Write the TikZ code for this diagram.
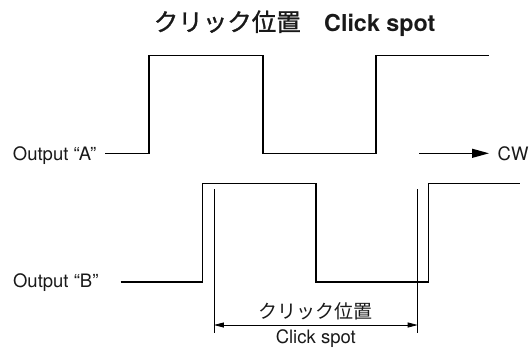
\documentclass[tikz,border=0pt]{standalone}
\usepackage{fontspec}
\setmainfont{TeX Gyre Heros}
\newfontfamily\jpfont{Noto Sans CJK JP}
\newfontfamily\jptitlefont[FakeBold=1.2]{Noto Sans CJK JP}
\usetikzlibrary{arrows.meta}
\begin{document}
\begin{tikzpicture}[x=1pt,y=-1pt,
  wave/.style={line width=1.6pt, line join=miter, line cap=butt},
  thinl/.style={line width=0.8pt},
  lbl/.style={inner sep=0pt, text=black!90, font=\fontsize{18.5}{22}\selectfont},
  ttl/.style={inner sep=0pt, text=black!90}]
\useasboundingbox (0,0) rectangle (532,349);
% title
\node[ttl, anchor=base east, font=\fontsize{24.5}{28}\selectfont\jptitlefont] (tjp) at (301,31) {クリック位置};
\node[ttl, anchor=base west, font=\fontsize{23.3}{27}\selectfont\bfseries] (ten) at (324,31) {Click spot};
% output A
\node[lbl, anchor=base west] (la) at (12.7,160.5) {Output “A”};
\coordinate (a0) at (105,153.3);
\coordinate (a1) at (149,153.3);
\coordinate (a2) at (149,55.5);
\coordinate (a3) at (262.7,55.5);
\coordinate (a4) at (262.7,153.3);
\coordinate (a5) at (375.7,153.3);
\coordinate (a6) at (375.7,55.5);
\coordinate (a7) at (489,55.5);
\draw[wave] (a0) -- (a1) -- (a2) -- (a3) -- (a4) -- (a5) -- (a6) -- (a7);
% CW arrow
\coordinate (cw0) at (419,153.3);
\coordinate (cw1) at (489,153.3);
\draw[line width=1.2pt, -{Triangle[length=17pt,width=9pt]}] (cw0) -- (cw1);
\node[lbl, anchor=base west] (cw) at (497.5,160.5) {CW};
% output B
\node[lbl, anchor=base west] (lb) at (12.9,287.4) {Output “B”};
\coordinate (b0) at (120.5,281.7);
\coordinate (b1) at (202.5,281.7);
\coordinate (b2) at (202.5,183.4);
\coordinate (b3) at (316,183.4);
\coordinate (b4) at (316,281.7);
\coordinate (b5) at (428.5,281.7);
\coordinate (b6) at (428.5,183.4);
\coordinate (b7) at (519.5,183.4);
\draw[wave] (b0) -- (b1) -- (b2) -- (b3) -- (b4) -- (b5) -- (b6) -- (b7);
% click spot dimension
\coordinate (v1t) at (213.9,189.3);
\coordinate (v1b) at (213.9,333.3);
\coordinate (v2t) at (417.7,189.3);
\coordinate (v2b) at (417.7,333.3);
\draw[thinl] (v1t) -- (v1b);
\draw[thinl] (v2t) -- (v2b);
\coordinate (d1) at (213.9,325);
\coordinate (d2) at (417.7,325);
\draw[thinl, {Triangle[length=10pt,width=5pt]}-{Triangle[length=10pt,width=5pt]}] (d1) -- (d2);
\node[lbl, font=\fontsize{19}{22}\selectfont\jpfont] (djp) at (315.8,311.7) {クリック位置};
\node[lbl] (den) at (315.8,338.6) {Click spot};
\end{tikzpicture}
\end{document}
